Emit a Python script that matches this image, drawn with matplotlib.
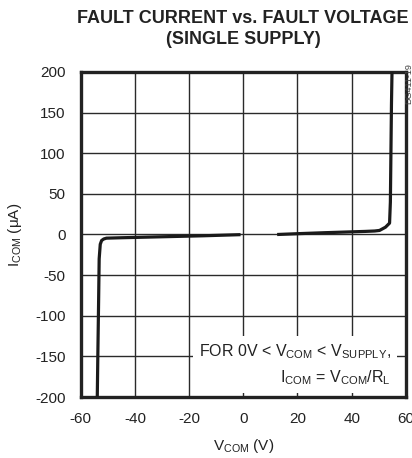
import matplotlib
matplotlib.use("Agg")
import matplotlib.pyplot as plt
from matplotlib import font_manager

names = set(f.name for f in font_manager.fontManager.ttflist)
fam = "Liberation Sans Narrow" if "Liberation Sans Narrow" in names else "Liberation Sans"
plt.rcParams["font.family"] = [fam, "DejaVu Sans"]
plt.rcParams["mathtext.fontset"] = "custom"
plt.rcParams["mathtext.rm"] = fam
plt.rcParams["axes.unicode_minus"] = False

# curve: negative side and positive side
v_neg = [-53.9, -53.7, -53.4, -53.2, -52.8, -52.3, -51.5, -50.5, -45, -35, -25, -15, -5, -1]
i_neg = [-200, -150, -80, -30, -12, -7.4, -5.5, -4.5, -4.0, -3.2, -2.4, -1.6, -0.6, -0.2]
v_pos = [12.5, 20, 30, 37.5, 45, 48.5, 50.3, 52.5, 54.0, 54.3, 54.5, 54.7, 54.9]
i_pos = [0.0, 1.0, 2.2, 3.0, 3.8, 4.3, 5.0, 9.0, 14, 40, 100, 160, 200]

x_ticks = [-60, -40, -20, 0, 20, 40, 60]
y_ticks = [-200, -150, -100, -50, 0, 50, 100, 150, 200]

fig = plt.figure(figsize=(4.12, 4.58), dpi=100)
ax = fig.add_axes([0.196, 0.133, 0.789, 0.710])

ax.plot(v_neg, i_neg, color="#1a1a1a", lw=2.3, solid_capstyle="butt", zorder=3)
ax.plot(v_pos, i_pos, color="#1a1a1a", lw=2.3, solid_capstyle="butt", zorder=3)

ax.set_xlim(-60, 60)
ax.set_ylim(-200, 200)
ax.set_xticks(x_ticks)
ax.set_yticks(y_ticks)
ax.grid(True, color="#2a2a2a", lw=1.0)
ax.tick_params(length=0, labelsize=11, pad=11, colors="#222222")
for s in ax.spines.values():
    s.set_linewidth(2.4)
    s.set_color("#222222")

ax.set_xlabel(r"V$_{\mathregular{COM}}$ (V)", fontsize=11, color="#222222", labelpad=8)
ax.set_ylabel(r"I$_{\mathregular{COM}}$ ($\mathregular{\mu}$A)", fontsize=11, color="#222222", labelpad=8)

ax.text(54.5, -160,
        "FOR 0V < V$_{\\mathregular{COM}}$ < V$_{\\mathregular{SUPPLY}}$,\n"
        "I$_{\\mathregular{COM}}$ = V$_{\\mathregular{COM}}$/R$_{\\mathregular{L}}$",
        ha="right", va="center", fontsize=11.5, color="#222222", linespacing=1.55,
        bbox=dict(facecolor="white", edgecolor="none", pad=4), zorder=4)

fig.text(0.59, 0.978, "FAULT CURRENT vs. FAULT VOLTAGE\n(SINGLE SUPPLY)",
         ha="center", va="top", fontsize=13, fontweight="bold", color="#222222",
         linespacing=1.3)
fig.text(0.991, 0.862, "DG411-19", rotation=90, ha="center", va="top",
         fontsize=6.5, color="#444444")

fig.savefig("out.png", dpi=100)
